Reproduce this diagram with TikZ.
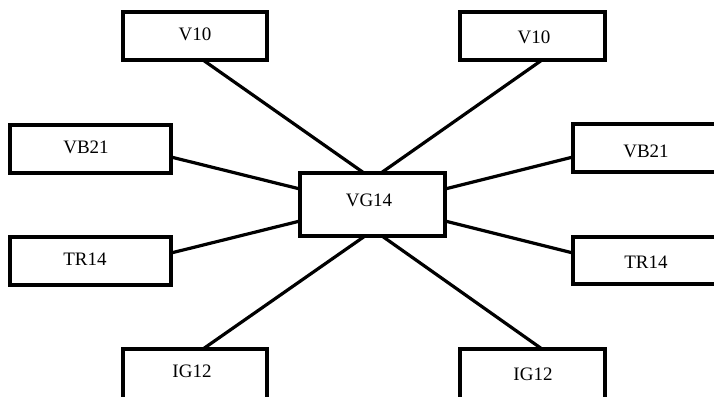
\documentclass[tikz,border=0pt]{standalone}
\usepackage{fontspec}
\setmainfont{Liberation Serif}
\usetikzlibrary{calc}
\tikzset{
  boxnode/.style={draw=black, line width=3.4pt, fill=white, inner sep=0pt, outer sep=0pt},
  labnode/.style={inner sep=0pt, font=\fontsize{19}{21}\selectfont},
  conn/.style={draw=black, line width=3.2pt}
}
\begin{document}
\begin{tikzpicture}[x=1pt,y=-1pt]
\useasboundingbox[fill=white] (0,0) rectangle (714,396);
\node[boxnode, minimum width=144pt, minimum height=48pt] (v10l) at (195,36) {};
\node[boxnode, minimum width=145pt, minimum height=48pt] (v10r) at (532.5,36) {};
\node[boxnode, minimum width=161pt, minimum height=48pt] (vb21l) at (90.5,149) {};
\node[boxnode, minimum width=145pt, minimum height=48pt] (vb21r) at (645.5,148) {};
\node[boxnode, minimum width=145pt, minimum height=63pt] (vg14) at (372.5,204.5) {};
\node[boxnode, minimum width=161pt, minimum height=48pt] (tr14l) at (90.5,261) {};
\node[boxnode, minimum width=145pt, minimum height=47pt] (tr14r) at (645.5,260.5) {};
\node[boxnode, minimum width=144pt, minimum height=54pt] (ig12l) at (195,376) {};
\node[boxnode, minimum width=145pt, minimum height=54pt] (ig12r) at (532.5,376) {};
% labels
\node[labnode] (t1) at (195,34) {V10};
\node[labnode] (t2) at (534,37) {V10};
\node[labnode] (t3) at (86,147) {VB21};
\node[labnode] (t4) at (646,151) {VB21};
\node[labnode] (t5) at (369,200) {VG14};
\node[labnode] (t6) at (85,259) {TR14};
\node[labnode] (t7) at (646,262) {TR14};
\node[labnode] (t8) at (192,371) {IG12};
\node[labnode] (t9) at (533,374) {IG12};
% connectors
\draw[conn] ([xshift=8pt]v10l.south) -- ([xshift=-8.5pt]vg14.north);
\draw[conn] ([xshift=9.5pt]v10r.south) -- ([xshift=8.5pt]vg14.north);
\draw[conn] ([yshift=-8pt]vb21l.east) -- ([yshift=15.5pt]vg14.west);
\draw[conn] ([yshift=15.5pt]vg14.east) -- ([yshift=-9pt]vb21r.west);
\draw[conn] ([yshift=8pt]tr14l.east) -- ([yshift=-16.5pt]vg14.west);
\draw[conn] ([yshift=-16.5pt]vg14.east) -- ([yshift=7.5pt]tr14r.west);
\draw[conn] ([xshift=8pt]ig12l.north) -- ([xshift=-7.5pt]vg14.south);
\draw[conn] ([xshift=9.5pt]ig12r.north) -- ([xshift=9.5pt]vg14.south);
\end{tikzpicture}
\end{document}
